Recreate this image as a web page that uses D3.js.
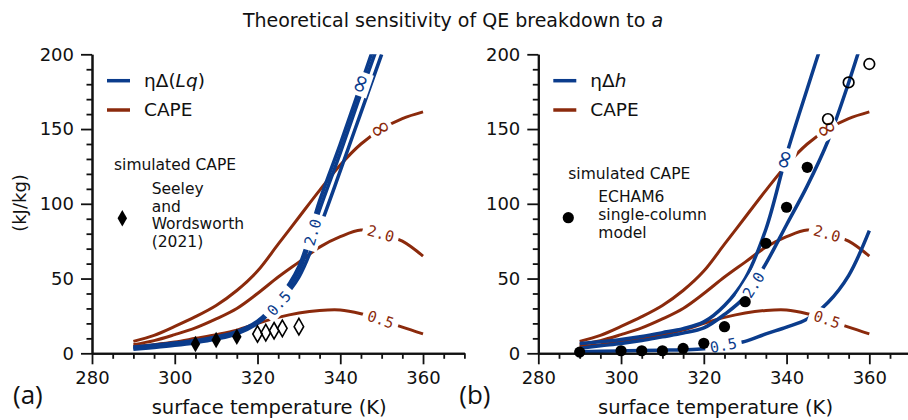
<!DOCTYPE html>
<html>
<head>
<meta charset="utf-8">
<script src="https://d3js.org/d3.v7.min.js"></script>
<style>
  body { margin: 0; background: #fff; }
  svg text { font-family: "DejaVu Sans", sans-serif; fill: #111; }
</style>
</head>
<body>
<div id="viz"></div>
<script>
// ---- data ----
const temps = [290, 295, 300, 305, 310, 315, 320, 325, 330, 335, 340, 345, 350, 355, 360];
const blueTemps = [290, 295, 300, 305, 310, 315, 320, 325, 330, 335, 340, 345, 350];

// CAPE curves (same in both panels), a = inf, 2.0, 0.5
const capeInf  = [8, 12, 18, 24.5, 32, 42, 55, 73, 91, 109, 126, 140, 150, 157, 161.5];
const cape2    = [5.8, 8.5, 12.5, 17, 23, 30, 40, 51, 61, 71, 78, 82.5, 80, 75, 65];
const capeHalf = [4.5, 5.8, 7.5, 10, 12.5, 15.5, 20, 24, 27, 28.7, 29, 26.5, 22.5, 17.5, 13];

// panel (a): eta*Delta(Lq)
const lqInf  = [4.2, 5.5, 6.9, 8.6, 11, 14.5, 21.5, 36, 58, 102, 140, 180, 220];
const lq2    = [3.5, 4.8, 6.2, 7.9, 10.3, 13.8, 20.8, 35, 55, 96, 134, 174, 213];
const lqHalf = [2.7, 3.9, 5.3, 7.1, 9.5, 13, 20, 33, 51, 84, 122, 161, 200];

// panel (b): eta*Delta h
const hInf  = [6.5, 7.8, 9.3, 11.3, 13.8, 16.5, 21, 32, 50, 83, 133, 177, 220];
const h2    = [3.3, 5, 6.5, 8.5, 11, 13.5, 17, 26, 38, 60, 86, 112, 142, 181, 225];
const hHalf = [1.1, 1.3, 1.6, 1.9, 2.1, 2.3, 3, 5.5, 8, 13, 17.5, 23, 34, 52, 82];

// contour labels: text and temperature where they sit
const levelNames = ["\u221e", "2.0", "0.5"];
const capeLabelT = [349.7, 349.7, 349.7];
const lqLabelT = [345, 333.3, 325.1];
const hLabelT = [339.6, 332, 324.7];

// simulated CAPE
const swFilledT = [305, 310, 315];
const swFilledV = [6.2, 8.9, 11.1];
const swOpenT = [320, 322, 324, 326, 330];
const swOpenV = [12.9, 13.8, 15.1, 16.7, 17.8];
const echamFilledT = [290, 300, 305, 310, 315, 320, 325, 330, 335, 340, 345];
const echamFilledV = [0.8, 1.7, 1.7, 1.7, 3.3, 6.7, 17.8, 34.5, 73.6, 97.7, 124.4];
const echamOpenT = [350, 355, 360];
const echamOpenV = [156.7, 181.2, 193.5];

const xTicks = [280, 300, 320, 340, 360];
const xMinor = [285, 290, 295, 305, 310, 315, 325, 330, 335, 345, 350, 355, 365, 370];
const yTicks = [0, 50, 100, 150, 200];
const yMinor = [10, 20, 30, 40, 60, 70, 80, 90, 110, 120, 130, 140, 160, 170, 180, 190];

// ---- drawing ----
const W = 908, H = 420;
const blue = "#0b3c8c", red = "#8b2a0c";

const svg = d3.select("#viz").append("svg")
    .attr("width", W).attr("height", H);

svg.append("text")
    .attr("x", 453).attr("y", 20).attr("dy", "0.35em")
    .attr("text-anchor", "middle")
    .style("font-size", "19px")
    .call(t => {
        t.append("tspan").text("Theoretical sensitivity of QE breakdown to ");
        t.append("tspan").style("font-style", "italic").text("a");
    });

svg.append("text")
    .attr("transform", "translate(20,203) rotate(-90)")
    .attr("dy", "0.35em").attr("text-anchor", "middle")
    .style("font-size", "18px").text("(kJ/kg)");

const y = d3.scaleLinear().domain([0, 200]).range([353.3, 54.3]);

function line(x) {
    return d3.line()
        .x(d => x(d[0]))
        .y(d => y(d[1]))
        .curve(d3.curveCatmullRom.alpha(0.5));
}

function placeLabel(g, node, x, t, text, color) {
    const target = x(t);
    const L = node.getTotalLength();
    let best = 0;
    for (let l = 0; l <= L; l += 0.5) {
        if (node.getPointAtLength(l).x >= target) { best = l; break; }
    }
    const p = node.getPointAtLength(best);
    const p1 = node.getPointAtLength(Math.max(0, best - 6));
    const p2 = node.getPointAtLength(Math.min(L, best + 6));
    let ang = Math.atan2(p2.y - p1.y, p2.x - p1.x) * 180 / Math.PI;
    if (ang > 90) ang -= 180;
    if (ang < -90) ang += 180;
    const lg = g.append("g").attr("transform", `translate(${p.x},${p.y}) rotate(${ang})`);
    const inf = text === "\u221e";
    const tw = inf ? 14 : text.length * 9;
    lg.append("rect")
        .attr("x", -tw / 2 - 5).attr("y", -9.5)
        .attr("width", tw + 10).attr("height", 19)
        .attr("fill", "white");
    lg.append("text")
        .attr("text-anchor", "middle").attr("dy", inf ? "0.28em" : "0.36em")
        .style("font-family", inf ? "'DejaVu Sans', sans-serif" : "'DejaVu Sans Mono', monospace")
        .style("font-size", inf ? "25px" : "15px")
        .style("fill", color)
        .text(text);
}

function drawPanel(id, x0, blueSeries, blueT, blueLabelT, legendName, markers, panelTag, legendText, legendTop) {
    const x = d3.scaleLinear().domain([280, 370]).range([x0, x0 + 372.4]);
    const g = svg.append("g");

    g.append("clipPath").attr("id", "clip" + id)
        .append("rect")
        .attr("x", x(280)).attr("y", y(200))
        .attr("width", x(370) - x(280)).attr("height", y(0) - y(200) + 6);

    const plot = g.append("g").attr("clip-path", `url(#clip${id})`);
    const mk = line(x);

    const capeSeries = [capeInf, cape2, capeHalf];
    const redPaths = capeSeries.map(vals =>
        plot.append("path")
            .datum(temps.map((t, i) => [t, vals[i]]))
            .attr("fill", "none").attr("stroke", red).attr("stroke-width", 3)
            .attr("d", mk).node());

    const bluePaths = blueSeries.map((vals, k) =>
        plot.append("path")
            .datum(blueT[k].map((t, i) => [t, vals[i]]))
            .attr("fill", "none").attr("stroke", blue).attr("stroke-width", 3.5)
            .attr("d", mk).node());

    const labels = plot.append("g");
    redPaths.forEach((n, k) => placeLabel(labels, n, x, capeLabelT[k], levelNames[k], red));
    bluePaths.forEach((n, k) => placeLabel(labels, n, x, blueLabelT[k], levelNames[k], blue));

    // axes
    const ax = g.append("g").attr("transform", `translate(0,${y(0)})`);
    ax.call(d3.axisBottom(x).tickValues(xTicks).tickFormat(d3.format("d"))
        .tickSize(11).tickSizeOuter(0).tickPadding(7));
    ax.append("g").call(d3.axisBottom(x).tickValues(xMinor).tickFormat("")
        .tickSize(5.5).tickSizeOuter(0));
    const ay = g.append("g").attr("transform", `translate(${x(280)},0)`);
    ay.call(d3.axisLeft(y).tickValues(yTicks).tickFormat(d3.format("d"))
        .tickSize(11).tickSizeOuter(0).tickPadding(7));
    ay.append("g").call(d3.axisLeft(y).tickValues(yMinor).tickFormat("")
        .tickSize(5.5).tickSizeOuter(0));
    g.selectAll(".domain").attr("stroke", "#111").attr("stroke-width", 2);
    g.selectAll(".tick line").attr("stroke", "#111").attr("stroke-width", 1.8);
    g.selectAll(".tick text").style("font-size", "18px").style("fill", "#111")
        .style("font-family", "'DejaVu Sans', sans-serif");

    // markers
    markers(g, x);

    g.append("text")
        .attr("x", (x(280) + x(370)) / 2 - 9).attr("y", 407).attr("dy", "0.35em")
        .attr("text-anchor", "middle").style("font-size", "19.5px")
        .text("surface temperature (K)");

    g.append("text")
        .attr("x", x0 - 79).attr("y", 395).attr("dy", "0.35em")
        .style("font-family", "'Open Sans', sans-serif").style("font-size", "26px")
        .text(panelTag);

    // legend
    const lx = x0 + 15;
    const leg = g.append("g");
    [[blue, 80.7], [red, 110]].forEach(([c, yy]) =>
        leg.append("line").attr("x1", lx).attr("x2", lx + 23)
            .attr("y1", yy).attr("y2", yy)
            .attr("stroke", c).attr("stroke-width", 3.5));
    leg.append("text").attr("x", lx + 37).attr("y", 80.7).attr("dy", "0.35em")
        .style("font-size", "18.5px").call(legendName);
    leg.append("text").attr("x", lx + 37).attr("y", 110).attr("dy", "0.35em")
        .style("font-size", "18.5px").text("CAPE");
    leg.append("text").attr("x", x0 + 22 + (id === "b" ? 8 : 0)).attr("y", legendTop)
        .attr("dy", "0.35em").style("font-size", "15.5px").text("simulated CAPE");
    legendText(leg, x0);
}

const diamond = d3.symbol().type(d3.symbolDiamond).size(78);

// panel (a)
drawPanel("a", 92, [lqInf, lq2, lqHalf], [blueTemps, blueTemps, blueTemps], lqLabelT,
    t => {
        t.append("tspan").text("\u03b7\u0394(");
        t.append("tspan").style("font-style", "italic").text("Lq");
        t.append("tspan").text(")");
    },
    (g, x) => {
        g.selectAll(".swf").data(swFilledT).join("path")
            .attr("transform", (d, i) => `translate(${x(d)},${y(swFilledV[i])})`)
            .attr("d", diamond).attr("fill", "#000");
        g.selectAll(".swo").data(swOpenT).join("path")
            .attr("transform", (d, i) => `translate(${x(d)},${y(swOpenV[i])})`)
            .attr("d", diamond).attr("fill", "none").attr("stroke", "#000")
            .attr("stroke-width", 1.6);
    },
    "(a)",
    (leg, x0) => {
        leg.append("path").attr("d", diamond)
            .attr("transform", `translate(${x0 + 30.3},218.3)`)
            .attr("fill", "#000");
        ["Seeley", "and", "Wordsworth", "(2021)"].forEach((s, i) =>
            leg.append("text").attr("x", x0 + 59.7).attr("y", 188.3 + i * 17.8)
                .attr("dy", "0.35em").style("font-size", "15.5px").text(s));
    },
    165);

// panel (b)
drawPanel("b", 538.3, [hInf, h2, hHalf], [blueTemps, temps, temps], hLabelT,
    t => {
        t.append("tspan").text("\u03b7\u0394");
        t.append("tspan").style("font-style", "italic").text("h");
    },
    (g, x) => {
        g.selectAll(".ef").data(echamFilledT).join("circle")
            .attr("cx", d => x(d)).attr("cy", (d, i) => y(echamFilledV[i]))
            .attr("r", 5.6).attr("fill", "#000");
        g.selectAll(".eo").data(echamOpenT).join("circle")
            .attr("cx", d => x(d)).attr("cy", (d, i) => y(echamOpenV[i]))
            .attr("r", 5.3).attr("fill", "none").attr("stroke", "#000")
            .attr("stroke-width", 1.7);
    },
    "(b)",
    (leg, x0) => {
        leg.append("circle").attr("cx", x0 + 30).attr("cy", 217.7).attr("r", 5.6).attr("fill", "#000");
        ["ECHAM6", "single-column", "model"].forEach((s, i) =>
            leg.append("text").attr("x", x0 + 60).attr("y", 196.7 + i * 18)
                .attr("dy", "0.35em").style("font-size", "15.5px").text(s));
    },
    173.3);
</script>
</body>
</html>
